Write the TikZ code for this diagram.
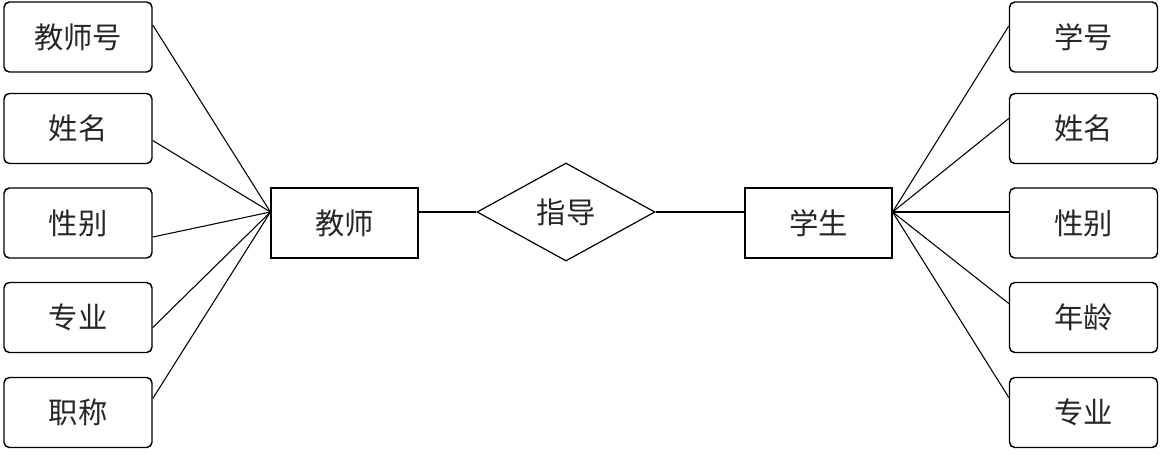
\documentclass[tikz,border=0pt]{standalone}
\usepackage{fontspec}
\newfontfamily\cjk{Noto Sans CJK SC}
\usetikzlibrary{shapes.geometric,calc}
\begin{document}
\begin{tikzpicture}[x=0.75pt,y=-0.75pt,
  lbl/.style={font=\cjk\fontsize{22}{26}\selectfont, text=black!85},
  attr/.style={lbl, draw, rounded corners=4pt, line width=1.1pt, minimum width=111pt, minimum height=52.5pt, inner sep=0pt},
  ent/.style={lbl, draw, line width=1.1pt, minimum width=110pt, minimum height=52.5pt, inner sep=0pt},
  rel/.style={lbl, draw, diamond, line width=0.9pt, minimum width=133.5pt, minimum height=73.5pt, inner sep=0pt},
  conn/.style={line width=0.8pt}]
\useasboundingbox (0,0) rectangle (1163,454);
% left attributes
\node[attr] (l1) at (78,37)    {教师号};
\node[attr] (l2) at (78,128.5) {姓名};
\node[attr] (l3) at (78,223)   {性别};
\node[attr] (l4) at (78,317.5) {专业};
\node[attr] (l5) at (78,412.5) {职称};
% right attributes
\node[attr] (r1) at (1083.5,37)    {学号};
\node[attr] (r2) at (1083.5,128.5) {姓名};
\node[attr] (r3) at (1083.5,223)   {性别};
\node[attr] (r4) at (1083.5,317.5) {年龄};
\node[attr] (r5) at (1083.5,412.5) {专业};
% entities and relationship
\node[ent] (t) at (344.5,223) {教师};
\node[ent] (s) at (818.5,223) {学生};
\node[rel] (d) at (566,212) {指导};
\coordinate (tc) at ($(t.west)+(0,-11)$);
\coordinate (sc) at ($(s.east)+(0,-11)$);
% connectors
\draw[conn] ($(l1.east)+(0,-12)$) -- (tc);
\draw[conn] ($(l2.east)+(0,12)$) -- (tc);
\draw[conn] ($(l3.east)+(0,14)$) -- (tc);
\draw[conn] ($(l4.east)+(0,10)$) -- (tc);
\draw[conn] ($(l5.east)+(0,-14)$) -- (tc);
\draw[conn] ($(r1.west)+(0,-11)$) -- (sc);
\draw[conn] ($(r2.west)+(0,-10)$) -- (sc);
\draw[conn] ($(r3.west)+(0,-11)$) -- (sc);
\draw[conn] ($(r4.west)+(0,-14)$) -- (sc);
\draw[conn] ($(r5.west)+(0,-15)$) -- (sc);
\draw[conn] ($(t.east)+(0,-11)$) -- (d.west);
\draw[conn] (d.east) -- ($(s.west)+(0,-11)$);
\end{tikzpicture}
\end{document}
